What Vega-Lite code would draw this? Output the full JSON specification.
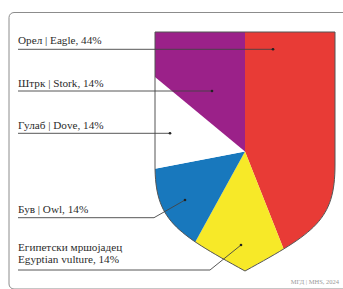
{
  "$schema": "https://vega.github.io/schema/vega-lite/v6.json",
  "width": 180,
  "height": 239,
  "autosize": {"type": "none"},
  "padding": {"left": 155, "top": 32, "right": 8, "bottom": 18},
  "background": "white",
  "config": {"view": {"stroke": null}, "font": "Liberation Serif"},
  "datasets": {
    "birds": [
      {"bird": "Орел | Eagle", "share": 44, "rank": 1},
      {"bird": "Египетски мршојадец | Egyptian vulture", "share": 14, "rank": 2},
      {"bird": "Був | Owl", "share": 14, "rank": 3},
      {"bird": "Гулаб | Dove", "share": 14, "rank": 4},
      {"bird": "Штрк | Stork", "share": 14, "rank": 5}
    ],
    "labels": [
      {"text": "Орел | Eagle, 44%", "x": 18, "y": 44},
      {"text": "Штрк | Stork, 14%", "x": 18, "y": 86.5},
      {"text": "Гулаб | Dove, 14%", "x": 18, "y": 128.5},
      {"text": "Був | Owl, 14%", "x": 18, "y": 213},
      {"text": "Египетски мршојадец", "x": 18, "y": 250.5},
      {"text": "Egyptian vulture, 14%", "x": 18, "y": 263}
    ],
    "leaders": [
      {"bird": "Eagle", "seq": 1, "x": 18, "y": 49.3},
      {"bird": "Eagle", "seq": 2, "x": 273, "y": 49.3},
      {"bird": "Stork", "seq": 1, "x": 18, "y": 91},
      {"bird": "Stork", "seq": 2, "x": 212, "y": 91},
      {"bird": "Dove", "seq": 1, "x": 18, "y": 133.3},
      {"bird": "Dove", "seq": 2, "x": 170, "y": 133.3},
      {"bird": "Owl", "seq": 1, "x": 18, "y": 217.7},
      {"bird": "Owl", "seq": 2, "x": 154, "y": 217.7},
      {"bird": "Owl", "seq": 3, "x": 185, "y": 200},
      {"bird": "Vulture", "seq": 1, "x": 18, "y": 270},
      {"bird": "Vulture", "seq": 2, "x": 210, "y": 270},
      {"bird": "Vulture", "seq": 3, "x": 241, "y": 245}
    ],
    "dots": [
      {"x": 273, "y": 49.3},
      {"x": 212, "y": 91},
      {"x": 170, "y": 133.3},
      {"x": 185, "y": 200},
      {"x": 241, "y": 245}
    ]
  },
  "layer": [
    {
      "data": {"values": [{"x": 9, "y": 12.5, "x2": 370, "y2": 289}]},
      "mark": {"type": "rect", "cornerRadius": 5, "fill": "white", "fillOpacity": 0, "stroke": "#8c8c8c", "strokeWidth": 1},
      "encoding": {
        "x": {"field": "x", "type": "quantitative", "scale": {"domain": [155, 335]}, "axis": null},
        "x2": {"field": "x2"},
        "y": {"field": "y", "type": "quantitative", "scale": {"domain": [32, 271], "reverse": true}, "axis": null},
        "y2": {"field": "y2"}
      }
    },
    {
      "data": {"name": "birds"},
      "mark": {"type": "arc", "radius": 200, "clip": true},
      "encoding": {
        "theta": {"field": "share", "type": "quantitative", "stack": true},
        "order": {"field": "rank", "type": "quantitative"},
        "color": {
          "field": "bird",
          "type": "nominal",
          "legend": null,
          "scale": {
            "domain": ["Орел | Eagle", "Египетски мршојадец | Egyptian vulture", "Був | Owl", "Гулаб | Dove", "Штрк | Stork"],
            "range": ["#e83b36", "#f7e928", "#1878bd", "#ffffff", "#9b2189"]
          }
        }
      }
    },
    {
      "data": {"values": [{}]},
      "mark": {"type": "point", "shape": "M -93 13.5 L -90 13.5 C -90 68.5 -70 81 0 119.5 C 70 81 90 68.5 90 13.5 L 93 13.5 L 93 123 L -93 123 Z", "size": 4, "filled": true, "fill": "white", "opacity": 1, "strokeWidth": 0},
      "encoding": {
        "x": {"datum": 245, "type": "quantitative", "scale": {"domain": [155, 335]}, "axis": null},
        "y": {"datum": 151.5, "type": "quantitative", "scale": {"domain": [32, 271], "reverse": true}, "axis": null}
      }
    },
    {
      "data": {"values": [{}]},
      "mark": {"type": "point", "shape": "M -90 -119.5 L 90 -119.5 L 90 13.5 C 90 68.5 70 81 0 119.5 C -70 81 -90 68.5 -90 13.5 Z", "size": 4, "filled": false, "stroke": "#555555", "strokeWidth": 1, "opacity": 1},
      "encoding": {
        "x": {"datum": 245, "type": "quantitative", "scale": {"domain": [155, 335]}, "axis": null},
        "y": {"datum": 151.5, "type": "quantitative", "scale": {"domain": [32, 271], "reverse": true}, "axis": null}
      }
    },
    {
      "data": {"name": "leaders"},
      "mark": {"type": "line", "stroke": "#444444", "strokeWidth": 0.9},
      "encoding": {
        "x": {"field": "x", "type": "quantitative", "scale": {"domain": [155, 335]}, "axis": null},
        "y": {"field": "y", "type": "quantitative", "scale": {"domain": [32, 271], "reverse": true}, "axis": null},
        "detail": {"field": "bird", "type": "nominal"},
        "order": {"field": "seq", "type": "quantitative"}
      }
    },
    {
      "data": {"name": "dots"},
      "mark": {"type": "point", "filled": true, "color": "#222222", "size": 7, "opacity": 1},
      "encoding": {
        "x": {"field": "x", "type": "quantitative", "scale": {"domain": [155, 335]}, "axis": null},
        "y": {"field": "y", "type": "quantitative", "scale": {"domain": [32, 271], "reverse": true}, "axis": null}
      }
    },
    {
      "data": {"name": "labels"},
      "mark": {"type": "text", "align": "left", "baseline": "alphabetic", "fontSize": 11.2, "color": "#2b2b2b", "font": "Liberation Serif"},
      "encoding": {
        "x": {"field": "x", "type": "quantitative", "scale": {"domain": [155, 335]}, "axis": null},
        "y": {"field": "y", "type": "quantitative", "scale": {"domain": [32, 271], "reverse": true}, "axis": null},
        "text": {"field": "text"}
      }
    },
    {
      "data": {"values": [{"text": "МГД | МНЅ, 2024", "x": 339, "y": 283.5}]},
      "mark": {"type": "text", "align": "right", "baseline": "alphabetic", "fontSize": 6.5, "color": "#999999", "font": "Liberation Serif"},
      "encoding": {
        "x": {"field": "x", "type": "quantitative", "scale": {"domain": [155, 335]}, "axis": null},
        "y": {"field": "y", "type": "quantitative", "scale": {"domain": [32, 271], "reverse": true}, "axis": null},
        "text": {"field": "text"}
      }
    }
  ]
}
